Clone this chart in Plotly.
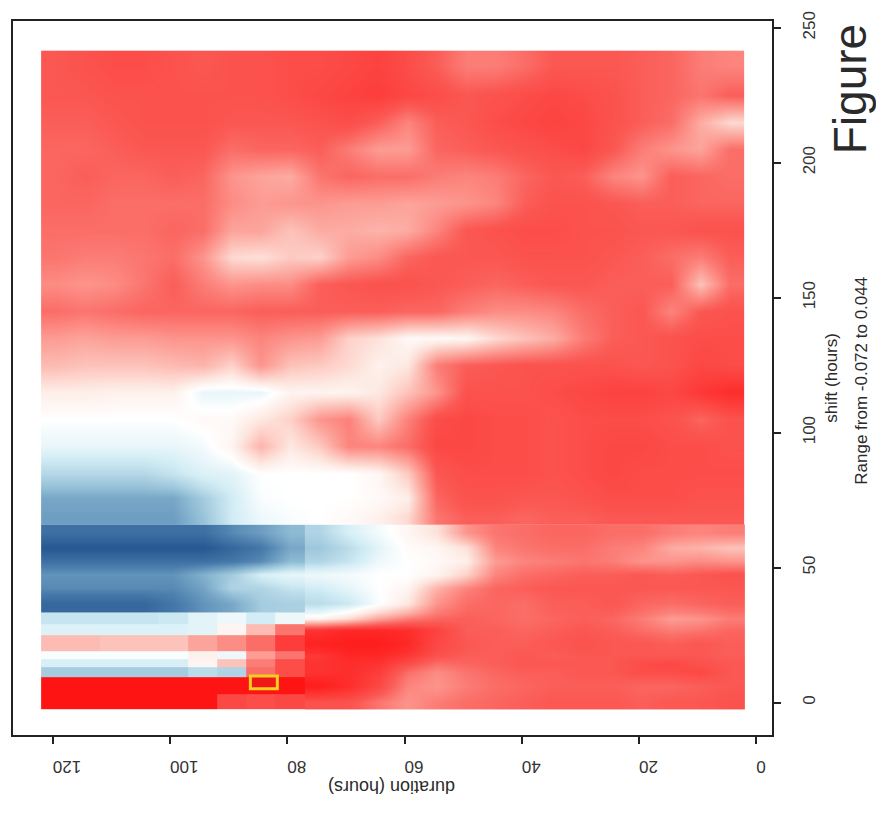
import plotly.graph_objects as go

# cell edges (hours)
duration_edges = [122 - 5 * i for i in range(25)]
shift_edges = [-2.5, 3, 9.5, 13, 16, 19, 25, 29, 33.5, 40, 45, 50, 55, 60, 66, 72, 80, 90, 100, 110, 120,
               130, 140, 150, 160, 170, 180, 190, 200, 210, 220, 230, 241.5]

# values read by eye, in thousandths; columns go from duration 120 down to 5, rows from shift 0 upward
z_rows = [
 [-72,-72,-72,-72,-72,-72,-52,-50,-52,-48,-48,-38,-30,-36,-40,-42,-44,-46,-46,-46,-44,-46,-46,-48],
 [-72,-72,-72,-72,-72,-72,-72,-72,-72,-68,-62,-52,-34,-30,-36,-40,-42,-44,-44,-44,-42,-42,-44,-46],
 [16,16,16,16,16,12,14,-40,-50,-60,-62,-56,-40,-32,-38,-42,-44,-44,-46,-46,-50,-50,-52,-46],
 [7,7,7,7,7,-4,-18,-36,-50,-60,-62,-60,-50,-40,-42,-44,-46,-46,-46,-46,-50,-52,-48,-46],
 [1,1,1,1,1,-5,3,-28,-38,-58,-64,-64,-58,-48,-44,-44,-46,-44,-46,-46,-46,-46,-46,-44],
 [-20,-20,-18,-18,-18,-26,-32,-40,-56,-66,-68,-68,-64,-52,-46,-44,-44,-46,-48,-46,-46,-44,-46,-44],
 [6,6,6,6,6,5,-4,-20,-38,-60,-64,-64,-62,-54,-44,-44,-42,-44,-46,-44,-40,-36,-38,-42],
 [10,10,10,10,9,5,3,8,3,-4,-12,-26,-36,-42,-44,-42,-40,-42,-44,-42,-36,-28,-30,-36],
 [38,38,38,38,34,28,24,16,15,12,9,1,-8,-30,-40,-42,-40,-44,-44,-46,-42,-40,-42,-44],
 [30,30,30,30,30,25,14,14,10,8,4,0,-3,-22,-34,-42,-44,-46,-46,-46,-46,-46,-46,-46],
 [28,28,28,28,28,22,16,7,4,3,2,0,0,-4,-14,-34,-40,-42,-44,-44,-46,-44,-46,-48],
 [36,36,36,36,36,36,34,30,20,14,10,3,0,-2,-6,-28,-34,-36,-38,-36,-30,-30,-32,-30],
 [42,42,42,42,42,42,38,34,24,17,12,5,-1,-3,-10,-34,-38,-40,-40,-36,-34,-24,-22,-18],
 [36,36,36,36,36,36,30,26,20,14,7,2,-3,-10,-30,-38,-40,-42,-42,-40,-40,-36,-34,-36],
 [26,26,26,26,26,18,8,3,1,0,-2,-5,-12,-38,-44,-44,-42,-44,-44,-46,-46,-46,-46,-46],
 [24,24,24,24,24,16,8,1,0,0,0,-2,-6,-42,-48,-48,-46,-46,-48,-50,-50,-50,-48,-48],
 [13,13,13,13,10,6,5,0,0,0,0,-3,-16,-46,-50,-50,-50,-48,-50,-52,-50,-50,-50,-50],
 [4,4,4,4,4,2,-4,-22,-8,-16,-34,-34,-40,-52,-52,-50,-50,-48,-50,-52,-52,-50,-50,-48],
 [0,0,0,0,0,-2,-2,-8,-14,-30,-35,-16,-35,-50,-52,-50,-50,-48,-50,-50,-50,-48,-42,-48],
 [-6,-6,-5,-5,-5,4,4,4,-4,-4,-4,-8,-18,-30,-48,-48,-48,-50,-52,-54,-54,-52,-58,-62],
 [-20,-18,-18,-18,-20,-22,-14,-30,-18,-16,-12,-5,-8,-36,-44,-46,-48,-48,-48,-48,-46,-48,-52,-50],
 [-28,-26,-28,-28,-30,-30,-30,-34,-30,-28,-14,-10,-2,-2,-3,-12,-18,-24,-36,-44,-46,-48,-50,-50],
 [-40,-38,-40,-42,-42,-42,-42,-44,-44,-44,-44,-44,-42,-42,-36,-32,-32,-34,-40,-44,-46,-34,-46,-48],
 [-32,-30,-32,-38,-44,-36,-30,-32,-32,-44,-46,-48,-48,-46,-44,-42,-44,-46,-46,-44,-44,-44,-18,-40],
 [-38,-36,-36,-38,-40,-30,-12,-10,-16,-14,-28,-32,-42,-46,-46,-46,-48,-48,-48,-46,-44,-40,-36,-44],
 [-40,-40,-40,-40,-42,-40,-26,-26,-18,-24,-24,-22,-24,-34,-46,-48,-50,-50,-48,-48,-46,-46,-48,-48],
 [-42,-42,-40,-40,-40,-40,-32,-28,-30,-30,-28,-28,-26,-28,-30,-34,-44,-48,-48,-46,-44,-44,-42,-42],
 [-42,-44,-42,-42,-44,-42,-30,-26,-24,-38,-42,-40,-40,-36,-34,-36,-42,-46,-44,-34,-30,-44,-42,-40],
 [-42,-42,-44,-46,-46,-46,-40,-42,-42,-44,-36,-28,-28,-42,-44,-46,-48,-50,-52,-46,-36,-30,-26,-40],
 [-44,-44,-46,-48,-48,-48,-46,-46,-46,-48,-50,-44,-34,-44,-46,-50,-52,-54,-52,-48,-44,-40,-24,-12],
 [-46,-46,-48,-48,-48,-48,-48,-48,-50,-52,-54,-56,-52,-50,-46,-48,-50,-52,-50,-48,-44,-42,-38,-44],
 [-46,-48,-50,-50,-48,-46,-48,-48,-50,-50,-52,-54,-50,-44,-36,-36,-40,-46,-46,-46,-44,-42,-36,-34],
]

# the picture has hard edges only at long durations, across these rows
band_split = 8
block_split = 14
column_split = 9

best_duration = 84.0
best_shift = 7.5
best_half_duration = 2.3
best_half_shift = 2.4

duration_ticks = [0, 20, 40, 60, 80, 100, 120]
shift_ticks = [0, 50, 100, 150, 200, 250]
font_family = "Liberation Sans"

colorscale = [
    [0.00, "#ff1414"],
    [(72 - 45) / 116, "#fb5a55"],
    [(72 - 25) / 116, "#fca89f"],
    [(72 - 8) / 116, "#fde9e2"],
    [72 / 116, "#ffffff"],
    [(72 + 8) / 116, "#d2edf5"],
    [(72 + 20) / 116, "#8ebbd4"],
    [(72 + 32) / 116, "#4d80ae"],
    [1.00, "#1f4f8c"],
]

fig = go.Figure()
common = dict(zmin=-72, zmax=44, colorscale=colorscale, showscale=False)

def panel(row_from, row_to, col_from, col_to, **kw):
    fig.add_heatmap(x=duration_edges[col_from:col_to + 1], y=shift_edges[row_from:row_to + 1],
                    z=[row[col_from:col_to] for row in z_rows[row_from:row_to]], **common, **kw)

n_rows, n_cols = len(z_rows), len(z_rows[0])
panel(0, band_split, 0, column_split)
panel(band_split, block_split, 0, column_split, zsmooth="best")
panel(0, block_split, column_split, n_cols, zsmooth="best")
panel(block_split, n_rows, 0, n_cols, zsmooth="best")

fig.add_shape(type="rect", xref="x", yref="y",
              x0=best_duration - best_half_duration, x1=best_duration + best_half_duration,
              y0=best_shift - best_half_shift, y1=best_shift + best_half_shift,
              line=dict(color="#f3cf1e", width=3), fillcolor="#f01818")

axis_line = dict(showline=True, linecolor="#222222", linewidth=2, mirror=True, ticks="outside",
                 tickcolor="#222222", tickwidth=2, ticklen=7, showgrid=False, zeroline=False,
                 tickfont=dict(family=font_family, size=17, color="#333333"))

fig.update_xaxes(range=[126.8, -2.7], tickmode="array", tickvals=duration_ticks, tickangle=180,
                 ticklabelstandoff=14, **axis_line)
fig.update_yaxes(range=[-12, 252.5], tickmode="array", tickvals=shift_ticks, side="right", tickangle=-90,
                 ticklabelstandoff=14, **axis_line)

def note(text, x, y, size, angle):
    fig.add_annotation(text=text, x=x, y=y, xref="paper", yref="paper", showarrow=False,
                       textangle=angle, xanchor="center", yanchor="middle",
                       font=dict(family=font_family, size=size, color="#2a2a2a"))

plot_w, plot_h = 876 - 11 - 104, 818 - 15 - 83
px = lambda v: (v - 11) / plot_w
py = lambda v: (818 - 83 - v) / plot_h
note("duration (hours)", px(391), py(788), 18, 180)
note("shift (hours)", px(831), py(375), 17, -90)
note("Range from -0.072 to 0.044", px(862), py(378), 17, -90)
note("Figure", px(851), py(84), 46, -90)

fig.update_layout(width=876, height=818, autosize=False, paper_bgcolor="white", plot_bgcolor="white",
                  margin=dict(l=11, r=104, t=15, b=83), showlegend=False)
fig.write_html("out.html", post_script="document.body.style.margin='0';", config={"displayModeBar": False})
